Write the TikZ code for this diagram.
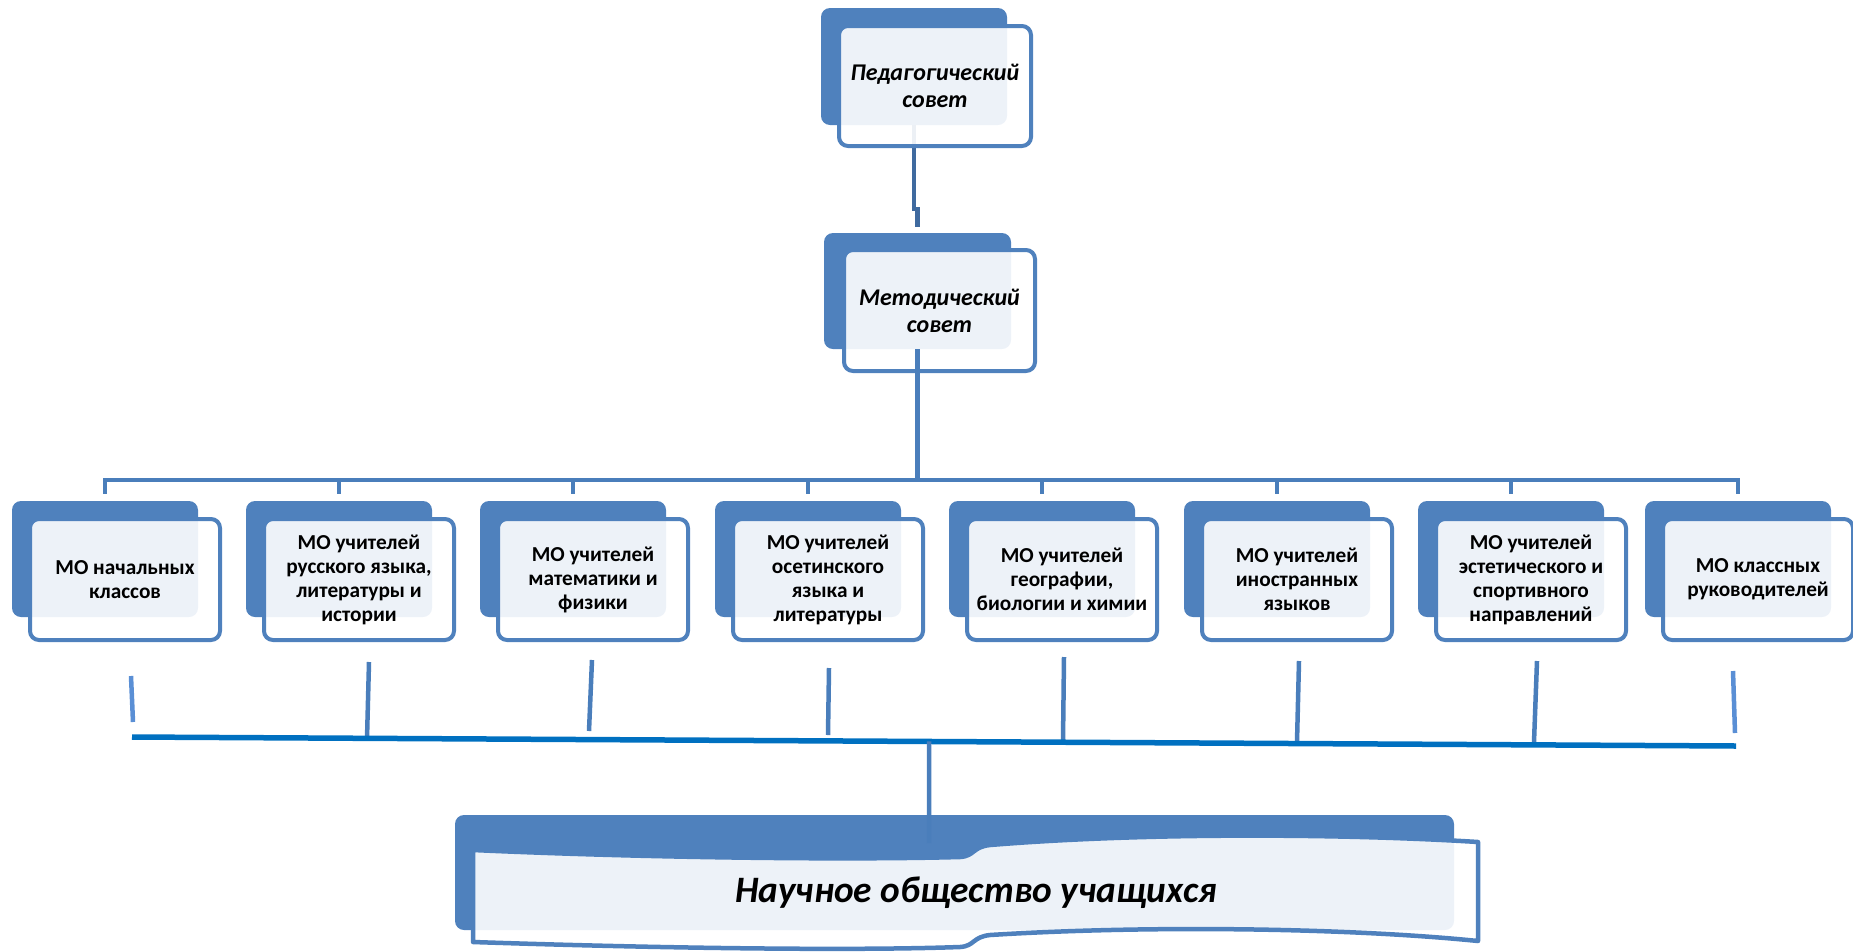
\documentclass[tikz,border=0pt]{standalone}
\usepackage{fontspec}
\setmainfont{Carlito}
\usetikzlibrary{positioning}
\usetikzlibrary{calc}

\definecolor{accent}{HTML}{4F81BD}
\definecolor{linkblue}{HTML}{4A7EBB}
\definecolor{darklink}{HTML}{3F6A9F}
\definecolor{tickpale}{HTML}{5A8FD5}
\definecolor{busblue}{HTML}{0070C0}

\begin{document}
\begin{tikzpicture}[x=1pt, y=-1pt,
	backbox/.style={rectangle, rounded corners=9pt, fill=accent, inner sep=0pt},
	frontbox/.style={rectangle, rounded corners=9pt, draw=accent, line width=4pt, fill=white, fill opacity=0.9, text opacity=1, inner sep=0pt, align=center},
	mofont/.style={font=\bfseries\fontsize{21.3}{24}\selectfont},
	sovetfont/.style={font=\bfseries\itshape\fontsize{24}{27}\selectfont},
	link/.style={draw=linkblue, line width=4.5pt},
	wave/.style={draw=accent, line width=4.5pt, line join=round, fill=white, fill opacity=0.9}]
	\useasboundingbox (0,0) rectangle (1853,951);

	% councils
	\node[backbox, minimum width=186pt, minimum height=117pt] (pb) at (914,66.5) {};
	\node[backbox, minimum width=187pt, minimum height=116pt] (mb) at (917.5,291) {};
	\draw[link, draw=darklink] (pb.south) -- ++(0,84) -| ([yshift=6pt]mb.north);
	\node[frontbox, sovetfont, minimum width=192pt, minimum height=120pt] (p) at (935,86) {Педагогический\\совет};
	\node[frontbox, sovetfont, minimum width=191pt, minimum height=121pt] (m) at (939.5,310.5) {Методический\\совет};

	% MO boxes on the upper bus
	\coordinate (bus) at (917,480);
	\draw[link] (mb.south) -- (mb.south |- bus);
	\foreach \l/\txt [count=\i] in {12/{МО начальных\\классов}, 246/{МО учителей\\русского языка,\\литературы и\\истории}, 480/{МО учителей\\математики и\\физики}, 715/{МО учителей\\осетинского\\языка и\\литературы}, 949/{МО учителей\\географии,\\биологии и химии}, 1184/{МО учителей\\иностранных\\языков}, 1418/{МО учителей\\эстетического и\\спортивного\\направлений}, 1645/{МО классных\\руководителей}}
	{
		\node[backbox, minimum width=186pt, minimum height=116pt] (mob\i) at (\l+93,559) {};
		\draw[link] ([yshift=7pt]mob\i.north) |- (bus);
		\node[frontbox, mofont, minimum width=190pt, minimum height=121pt] (mo\i) at (\l+113,579.5) {\txt};
	}

	% lower ticks
	\foreach \xa/\ya/\xb/\yb/\col [count=\i] in {131/676/133/722/tickpale, 369/662/367/739/linkblue, 592/660/589/731/linkblue, 829/668/828/735/linkblue, 1064/657/1063/741/linkblue, 1299/661/1297/742/linkblue, 1537/661/1534/742/linkblue, 1733/671/1735/733/tickpale}
		{\draw[\col, line width=4.5pt] (\xa,\ya) coordinate (lt\i) -- (\xb,\yb) coordinate (lb\i);}

	% lower bus
	\coordinate (busL) at (132,737);
	\coordinate (busR) at (1736,746);
	\draw[busblue, line width=5.5pt] (busL) -- (busR);

	% student society
	\node[backbox, minimum width=999pt, minimum height=115pt] (nb) at (954.5,872.5) {};
	\coordinate (nouTop) at (929,843);
	\draw[link] ($(busL)!0.4969!(busR)$) -- (nouTop);
	\draw[wave] (473,850) .. controls (650,858) and (850,860) .. (960,857) .. controls (975,856) and (972,847) .. (990,845) .. controls (1150,832) and (1350,834) .. (1478,842) -- (1478,941) .. controls (1350,928) and (1150,925) .. (990,935) .. controls (972,937) and (975,946) .. (960,947) .. controls (850,951) and (650,948) .. (473,942) -- cycle;
	\node[font=\bfseries\itshape\fontsize{37.3}{44}\selectfont] (nou) at (976,893) {Научное общество учащихся};
\end{tikzpicture}
\end{document}
